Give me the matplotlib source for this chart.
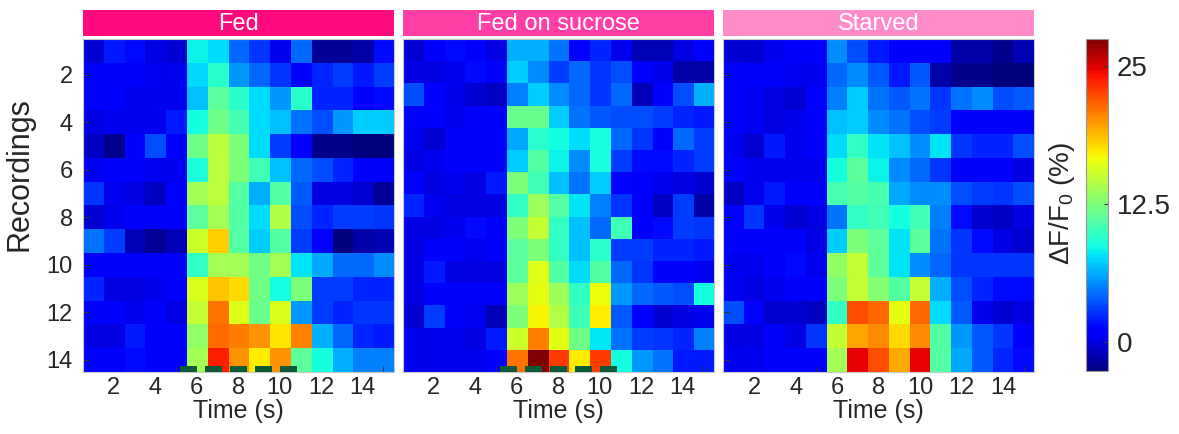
import matplotlib
matplotlib.use("Agg")
import numpy as np
import matplotlib.pyplot as plt
from matplotlib.patches import Rectangle

plt.rcParams['font.family'] = ['Liberation Sans', 'DejaVu Sans']
plt.rcParams['mathtext.fontset'] = 'custom'
plt.rcParams['mathtext.rm'] = 'Liberation Sans'
plt.rcParams['mathtext.it'] = 'Liberation Sans:italic'

# dF/F0 (%) per recording (rows) and time bin (columns, 1..15 s)
fed = [
    [-0.4, 1.9, 1.5, 0.0, -0.4, 8.3, 7.6, 4.2, 2.7, 0.4, 4.2, -1.9, -1.9, -1.5, 1.5],
    [1.2, 0.8, 0.8, 0.4, 0.4, 7.5, 9.4, 5.7, 4.2, 2.7, 1.2, 2.3, 3.0, 1.9, 3.0],
    [1.2, 0.8, 0.4, 0.4, 0.4, 6.8, 11.3, 9.4, 7.6, 5.7, 9.4, 2.3, 2.3, 1.2, 1.5],
    [0.0, 0.4, 0.4, 0.4, 1.9, 8.7, 12.0, 10.5, 7.6, 6.8, 4.6, 3.4, 5.7, 7.2, 7.2],
    [-0.8, -2.2, 1.2, 3.4, 0.8, 12.0, 14.7, 12.4, 7.6, 3.0, 0.8, -2.2, -2.2, -2.6, -2.6],
    [0.4, 1.2, 1.2, 0.4, 0.4, 9.0, 14.7, 12.4, 10.2, 6.8, 4.2, 3.4, 2.3, 1.2, 0.8],
    [2.7, 0.4, 0.0, -0.8, 0.8, 13.9, 14.7, 10.9, 6.4, 10.9, 3.8, 0.0, 0.0, -0.4, -1.9],
    [-0.4, 0.4, 1.2, 1.2, 1.2, 11.3, 13.9, 10.9, 7.6, 14.3, 3.4, 2.3, 3.0, 3.0, 2.7],
    [4.6, 3.0, -1.1, -1.9, -1.1, 15.4, 18.1, 10.9, 7.2, 10.9, 3.0, 0.8, -2.6, -1.5, -1.1],
    [1.2, 0.8, 1.2, 1.2, 1.0, 9.8, 13.9, 13.9, 12.0, 13.9, 7.9, 6.1, 4.2, 4.2, 5.3],
    [2.3, 0.0, 0.0, 0.4, 1.2, 15.8, 18.4, 17.7, 12.0, 8.7, 12.4, 3.0, 3.0, 2.3, 2.3],
    [1.2, 1.2, 0.4, 1.2, 0.0, 15.0, 21.0, 16.0, 11.7, 15.8, 5.7, 3.0, 2.3, 2.7, 2.7],
    [0.0, 0.0, 1.9, 1.2, 1.2, 13.2, 21.2, 20.7, 19.9, 17.4, 20.5, 6.4, 4.2, 2.3, 1.9],
    [1.2, 0.8, 1.5, 1.2, 1.2, 13.9, 23.7, 19.9, 17.2, 19.9, 11.3, 8.7, 6.4, 4.9, 4.9],
]
fed_sucrose = [
    [-0.4, 1.2, 1.5, 1.2, 0.0, 6.4, 6.4, 4.6, 1.0, 2.3, 0.4, -1.1, -1.1, 0.0, 1.2],
    [0.0, 0.0, 0.4, 1.5, 1.2, 7.2, 5.3, 3.0, 4.2, 2.7, 3.4, 0.8, 0.4, -1.5, -1.5],
    [3.4, 0.8, 0.4, -0.4, -0.8, 4.9, 7.2, 5.3, 4.2, 2.7, 4.2, -1.1, 1.2, 3.4, 6.4],
    [1.2, 1.2, 0.4, 0.8, 0.8, 11.7, 11.7, 7.2, 4.6, 3.8, 3.4, 3.4, 3.0, 2.3, 1.9],
    [0.4, -0.4, 1.2, 1.2, 0.8, 6.1, 9.4, 8.7, 7.6, 8.8, 4.2, 2.7, 1.2, 4.2, 3.0],
    [0.0, 0.4, 1.2, 1.2, 0.8, 7.2, 10.9, 8.3, 5.3, 8.8, 3.0, 1.5, 1.5, 2.3, 3.0],
    [1.2, 0.0, 0.4, 0.0, 1.9, 12.4, 10.2, 6.8, 4.6, 7.2, 1.2, 1.2, 0.4, 0.0, -0.4],
    [2.3, 0.4, 0.0, 0.0, 0.0, 9.8, 13.6, 10.9, 7.9, 4.9, 2.7, 0.8, -0.8, 3.0, -1.5],
    [0.0, 0.0, 0.4, 1.5, 1.2, 12.4, 15.0, 9.8, 6.8, 4.2, 10.2, 1.2, 1.5, 3.0, 2.7],
    [0.0, 0.8, 1.2, 0.4, 1.2, 11.3, 12.4, 9.8, 6.8, 9.4, 3.0, 3.0, 2.3, 2.3, 1.9],
    [0.0, 1.9, 0.0, 0.0, 0.0, 11.3, 16.0, 10.9, 7.6, 10.9, 4.2, 2.7, 1.2, 1.2, 0.4],
    [0.0, 0.8, 1.2, 1.2, 0.8, 13.6, 16.2, 13.6, 9.8, 16.5, 5.7, 4.2, 3.8, 3.4, 8.7],
    [-0.4, 3.0, 1.2, 0.4, -1.1, 12.4, 16.9, 14.3, 10.2, 17.2, 3.8, 1.0, -0.4, 0.0, 0.4],
    [0.4, 0.4, 0.4, 0.0, 1.9, 15.4, 20.7, 16.2, 12.0, 8.0, 4.6, 3.0, 2.7, 2.3, 4.9],
    [0.4, 0.4, 0.4, 0.4, 1.2, 21.0, 27.4, 22.8, 17.2, 22.8, 8.7, 5.7, 4.6, 1.9, 1.9],
]
starved = [
    [-0.4, -0.4, 0.4, 1.2, 1.2, 5.3, 3.4, 1.9, 1.2, 1.2, 1.2, -1.5, -1.5, -2.2, -1.1],
    [1.2, 0.8, 1.2, 0.4, 0.4, 4.2, 5.3, 3.8, 1.9, 3.8, -1.5, -2.2, -2.2, -2.6, -2.6],
    [1.2, 0.4, 0.0, -0.4, 1.2, 4.9, 7.2, 4.6, 3.8, 4.6, 2.7, 4.6, 5.3, 3.4, 3.8],
    [1.2, 0.4, 0.0, 0.4, 0.8, 6.8, 7.2, 5.3, 4.6, 3.4, 3.0, 1.2, 1.2, 1.2, 1.2],
    [0.4, -0.4, 1.9, 0.4, 0.8, 7.6, 9.8, 7.9, 6.8, 5.3, 7.9, 2.7, 2.3, 2.3, 3.4],
    [1.2, 0.4, 0.4, 0.4, 0.4, 8.7, 11.3, 8.3, 5.3, 4.2, 2.7, 1.2, 1.2, 1.2, 0.0],
    [-0.8, 0.4, 1.9, 1.2, 1.2, 10.5, 10.9, 10.5, 6.1, 5.3, 5.3, 3.4, 3.0, 2.7, 3.4],
    [0.8, 2.7, 0.4, -0.4, 0.0, 4.6, 9.8, 10.2, 8.7, 10.2, 4.9, 1.5, -0.4, -0.8, 0.0],
    [1.2, 1.2, 1.2, 1.2, 0.0, 7.2, 12.4, 11.3, 7.9, 11.3, 4.6, 2.7, 1.5, 0.0, -0.4],
    [0.4, 0.4, 1.0, 1.5, 0.4, 13.2, 15.0, 11.3, 7.9, 5.3, 4.2, 2.7, 2.7, 2.7, 2.7],
    [0.4, 0.0, 0.4, 1.2, 1.2, 12.4, 15.0, 12.8, 10.9, 15.0, 6.4, 3.4, 2.3, 1.5, 1.5],
    [3.4, 1.2, -0.4, -0.4, -0.8, 9.8, 22.2, 21.4, 16.2, 21.4, 7.6, 3.8, 0.4, -0.4, 0.0],
    [0.0, 0.0, 1.0, 0.0, 2.7, 15.0, 19.5, 20.3, 17.7, 20.3, 10.9, 5.7, 3.8, 2.7, 1.2],
    [0.4, 0.4, 0.8, 1.2, 1.2, 13.9, 24.6, 22.2, 19.2, 24.6, 10.9, 6.1, 3.8, 2.3, 1.5],
]

titles = ["Fed", "Fed on sucrose", "Starved"]
title_colors = ["#ff0a7c", "#ff3ea6", "#ff8cc9"]
panels = [fed, fed_sucrose, starved]
show_pulses = [True, True, False]
pulse_starts = [5.2, 6.4, 7.6, 8.8, 10.0]
pulse_width = 0.83
xticks = [2, 4, 6, 8, 10, 12, 14]
yticks = [2, 4, 6, 8, 10, 12, 14]
cbar_ticks = [0, 12.5, 25]
cbar_ticklabels = ["0", "12.5", "25"]
vmin, vmax = -2.6, 27.4

txt = "#262626"
W, H = 1179, 434
fig = plt.figure(figsize=(W / 100, H / 100), dpi=100)

lefts = [82.7, 402.7, 723.3]
ax_w = 311.0
ax_top, ax_bot = 39.3, 371.7

for i, data in enumerate(panels):
    arr = np.array(data)
    nrow, ncol = arr.shape
    ax = fig.add_axes([lefts[i] / W, (H - ax_bot) / H, ax_w / W, (ax_bot - ax_top) / H])
    im = ax.imshow(arr, cmap="jet", vmin=vmin, vmax=vmax, aspect="auto",
                   interpolation="nearest",
                   extent=[0.5, ncol + 0.5, nrow + 0.5, 0.5])
    ax.set_xlim(0.5, ncol + 0.5)
    ax.set_ylim(nrow + 0.5, 0.5)
    ax.set_xticks(xticks)
    ax.set_xticks([5, 10, 15], minor=True)
    ax.set_yticks(yticks if i != 1 else [])
    ax.tick_params(axis="x", which="major", length=0, pad=4, labelsize=17, labelcolor=txt)
    ax.tick_params(axis="x", which="minor", direction="in", length=4, color="#333333")
    ax.tick_params(axis="y", which="major", direction="in", length=4, color="#333333",
                   pad=7, labelsize=17, labelcolor=txt, labelleft=(i == 0))
    for sp in ax.spines.values():
        sp.set_color("#c8c8c8")
        sp.set_linewidth(0.8)
    ax.set_xlabel("Time (s)", fontsize=18, color=txt, labelpad=0)

    if show_pulses[i]:
        for s in pulse_starts:
            ax.add_patch(Rectangle((s, 0), pulse_width, 0.016,
                                   transform=ax.get_xaxis_transform(),
                                   facecolor="#0c5a37", edgecolor="none", zorder=3))

    # coloured title bar
    bax = fig.add_axes([lefts[i] / W, (H - 36) / H, ax_w / W, 26 / H])
    bax.set_facecolor(title_colors[i])
    bax.set_xticks([])
    bax.set_yticks([])
    for sp in bax.spines.values():
        sp.set_visible(False)
    bax.text(0.5, 0.45, titles[i], color="white", fontsize=17,
             ha="center", va="center", transform=bax.transAxes)

fig.text(20 / W, (H - 174) / H, "Recordings", rotation=90, fontsize=22,
         color=txt, ha="center", va="center")

cax = fig.add_axes([1085.7 / W, (H - 370.7) / H, 22.6 / W, 331.7 / H])
cb = fig.colorbar(im, cax=cax)
cb.set_ticks(cbar_ticks)
cb.set_ticklabels(cbar_ticklabels)
cax.tick_params(direction="in", length=3, pad=6, labelsize=20, labelcolor=txt, color="#333333")
cb.outline.set_edgecolor("#999999")
cb.outline.set_linewidth(0.8)
fig.text(1062 / W, (H - 203.5) / H, "ΔF/F$_0$ (%)", rotation=90, fontsize=20,
         color=txt, ha="center", va="center")

fig.savefig("out.png", dpi=100)
